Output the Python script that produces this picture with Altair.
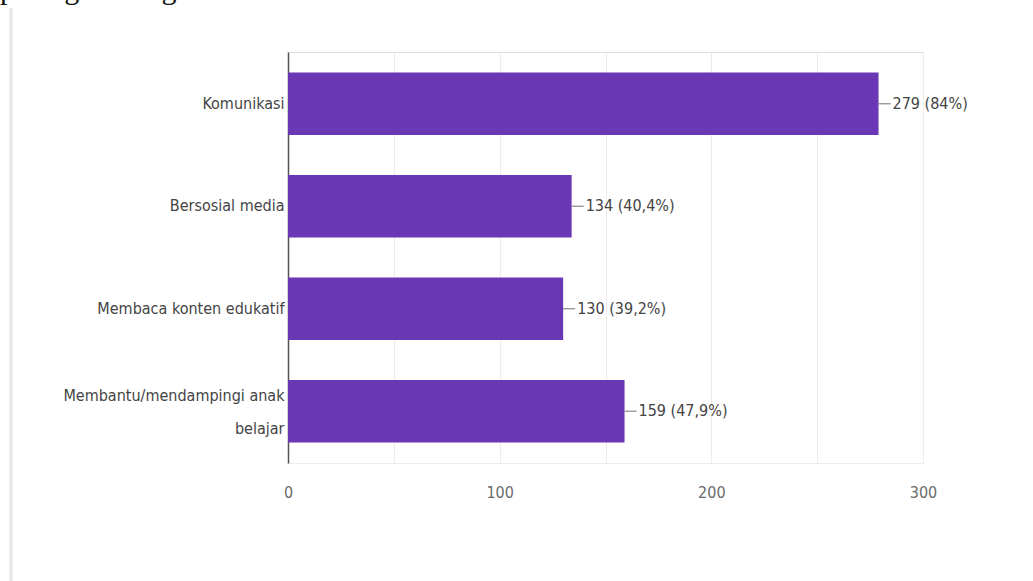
import altair as alt
import pandas as pd

categories = ["Komunikasi", "Bersosial media", "Membaca konten edukatif", "Membantu/mendampingi anak belajar"]
counts = [279, 134, 130, 159]
percents = ["84%", "40,4%", "39,2%", "47,9%"]
x_ticks = [0, 50, 100, 150, 200, 250, 300]

df = pd.DataFrame({
    "kategori": categories,
    "jumlah": counts,
    "label": [f"{c} ({p})" for c, p in zip(counts, percents)],
})

FONT = "'DejaVu Sans Condensed', 'Liberation Sans Narrow', Roboto, sans-serif"
PURPLE = "#6a37b5"
FS = 16
LONG = "Membantu/mendampingi anak belajar"

x_enc = alt.X(
    "jumlah:Q",
    scale=alt.Scale(domain=[0, 300], nice=False),
    axis=alt.Axis(
        values=x_ticks,
        labelExpr="datum.value % 100 == 0 ? datum.label : ''",
        title=None,
        grid=True,
        gridColor="#ececec",
        ticks=False,
        domain=True,
        domainColor="#ececec",
        labelFlush=False,
        labelFont=FONT,
        labelFontSize=FS,
        labelColor="#6b6b6b",
        labelPadding=21,
    ),
)
y_enc = alt.Y(
    "kategori:N",
    sort=categories,
    scale=alt.Scale(paddingInner=0.39, paddingOuter=0.2),
    axis=alt.Axis(
        title=None,
        ticks=False,
        domain=True,
        domainColor="#555555",
        domainWidth=1.5,
        labelFont=FONT,
        labelFontSize=FS,
        labelColor="#444444",
        labelPadding=4,
        labelLimit=400,
        labelLineHeight=33,
        labelOffset={"condition": {"test": f"datum.value == '{LONG}'", "value": -15}, "value": 0},
        labelExpr=f"datum.value == '{LONG}' ? ['Membantu/mendampingi anak', 'belajar'] : datum.label",
    ),
)

bars = alt.Chart(df).mark_bar(color=PURPLE).encode(x=x_enc, y=y_enc)

connectors = alt.Chart(df).mark_rule(color="#888888", strokeWidth=1.2, x2Offset=12).encode(
    x="jumlah:Q", x2="jumlah:Q", y=alt.Y("kategori:N", sort=categories, bandPosition=0.5)
)

texts = alt.Chart(df).mark_text(
    align="left", baseline="middle", dx=14, font=FONT, fontSize=FS, color="#444444"
).encode(x="jumlah:Q", y=alt.Y("kategori:N", sort=categories, bandPosition=0.5), text="label:N")

top_text = alt.Chart(alt.Data(values=[{"t": "pada gambar grafik ini."}])).mark_text(
    align="left", baseline="alphabetic", font="Liberation Serif", fontSize=30, color="#111111"
).encode(x=alt.value(-288), y=alt.value(-53), text="t:N")

card_border = alt.Chart(alt.Data(values=[{"a": 1}])).mark_rule(color="#e6e6e6", strokeWidth=3).encode(
    x=alt.value(-277), y=alt.value(-44), y2=alt.value(540)
)

chart = alt.layer(bars, connectors, texts, top_text, card_border).properties(
    width=635,
    height=411,
    autosize=alt.AutoSizeParams(type="none"),
    padding={"left": 288, "top": 52, "right": 110, "bottom": 118},
).configure_view(stroke=None).configure(background="white")

chart.save("out.html", embed_options={"renderer": "svg", "actions": False})
